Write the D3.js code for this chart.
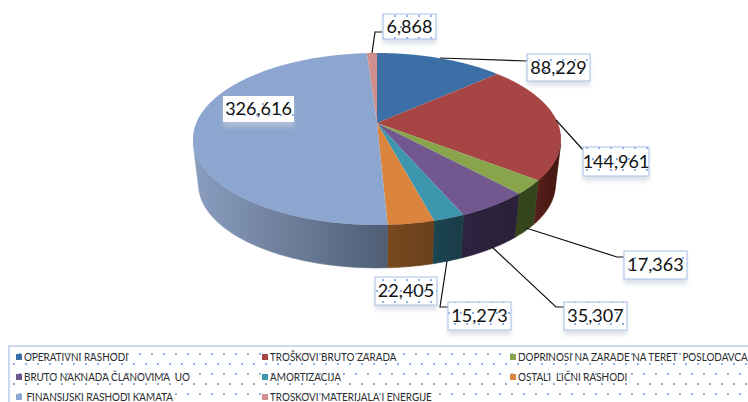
<!DOCTYPE html>
<html><head><meta charset="utf-8">
<script src="https://cdn.jsdelivr.net/npm/d3@7"></script>
<style>html,body{margin:0;padding:0;background:#fff;overflow:hidden}svg{display:block}text{font-family:Lato,"Open Sans",sans-serif}</style>
</head><body><div id="c"></div>
<script>
const categories=["OPERATIVNI RASHODI","TROŠKOVI BRUTO ZARADA","DOPRINOSI NA ZARADE NA TERET  POSLODAVCA","BRUTO NAKNADA ČLANOVIMA  UO","AMORTIZACIJA","OSTALI  LIČNI RASHODI"," FINANSIJSKI RASHODI KAMATA","TROSKOVI MATERIJALA I ENERGIJE"];
const values=[88229,144961,17363,35307,15273,22405,326616,6868];
const topColors=["#3c6fa5","#a64543","#88a54b","#71588f","#3e96ae","#db843d","#8da6cf","#ce8f8e"];
const wallFrom=["#2a4d73","#5a1f1c","#36471c","#2e2440","#1b4652","#7a4a1e","#8a9dbf","#8d5f5e"];
const wallTo=["#2a4d73","#43160f","#33441c","#2a2038","#1a3c47","#683f1b","#4f5e75","#8d5f5e"];
const labelBoxes=[[527,54,63,27],[583,147,66,29],[624,251,63,28],[564,302,63,28],[448,302,63,28],[375,277,62,28],[223,96,71,26],[383,14,53,25]];
const leaders=[[[440,58],[527,61]],[[556,120],[584,151]],[[526,228],[617,257],[624,257]],[[492,247],[556,307],[564,307]],[[447,261],[440,307],[448,307]],null,null,[[372,53],[375,32],[383,32]]];

const W=748,H=402;
const svg=d3.select("#c").append("svg").attr("width",W).attr("height",H);
const defs=svg.append("defs");
const pat=defs.append("pattern").attr("id","dots").attr("width",12).attr("height",20).attr("patternUnits","userSpaceOnUse");
pat.append("rect").attr("width",12).attr("height",20).attr("fill","#fff");
pat.append("circle").attr("cx",2).attr("cy",4).attr("r",.95).attr("fill","#5f90da");
pat.append("circle").attr("cx",8).attr("cy",14).attr("r",.95).attr("fill","#5f90da");
const lpat=defs.append("pattern").attr("id","ldots").attr("width",12).attr("height",22).attr("patternUnits","userSpaceOnUse").attr("patternTransform","translate(3,3)");
lpat.append("rect").attr("width",12).attr("height",22).attr("fill","#fff");
lpat.append("circle").attr("cx",2).attr("cy",2).attr("r",.95).attr("fill","#5f90da");
lpat.append("circle").attr("cx",8).attr("cy",13).attr("r",.95).attr("fill","#5f90da");
const blur=defs.append("filter").attr("id","sh").attr("x","-20%").attr("y","-30%").attr("width","140%").attr("height","190%");
blur.append("feDropShadow").attr("dx",0).attr("dy",5).attr("stdDeviation",2.2).attr("flood-color","#c4cdda").attr("flood-opacity",.6);

// perspective projection of the unit pie circle
const apex=[377,123],A=180.8,B=83,k=.186,shrink=.97,drop=46;
const proj=t=>{const X=Math.sin(t),Y=Math.cos(t),w=1+k*Y;return [apex[0]+A*X/w,apex[1]-B*Y/w]};
const low=p=>[apex[0]+(p[0]-apex[0])*shrink,apex[1]+(p[1]-apex[1])*shrink+drop];
const pie=d3.pie().sort(null).value(d=>d)(values);
const line=d3.line();
const samples=(a,b)=>{const n=Math.max(2,Math.ceil((b-a)/.01));return d3.range(n+1).map(i=>a+(b-a)*i/n)};
const faces=(a,b)=>{const u=proj(a),v=proj(b),d=low(u);return (v[0]-u[0])*(d[1]-u[1])-(v[1]-u[1])*(d[0]-u[0])<0};

const walls=svg.append("g"),tops=svg.append("g");
pie.forEach((d,i)=>{
  const ts=samples(d.startAngle,d.endAngle);
  const front=ts.filter((t,j)=>j<ts.length-1?faces(t,ts[j+1]):faces(ts[j-1],t));
  if(front.length<2) return;
  const up=front.map(proj),dn=up.map(low);
  const xs=up.concat(dn).map(p=>p[0]);
  const g=defs.append("linearGradient").attr("id","w"+i).attr("gradientUnits","userSpaceOnUse")
    .attr("x1",d3.min(xs)).attr("x2",d3.max(xs)).attr("y1",0).attr("y2",0);
  g.append("stop").attr("offset",0).attr("stop-color",wallFrom[i]);
  g.append("stop").attr("offset",1).attr("stop-color",wallTo[i]);
  walls.append("path").attr("d",line(up.concat(dn.slice().reverse()))+"Z")
    .attr("fill",`url(#w${i})`).attr("stroke",`url(#w${i})`).attr("stroke-width",.6);
});
pie.forEach((d,i)=>{
  const pts=[apex].concat(samples(d.startAngle,d.endAngle).map(proj));
  tops.append("path").attr("d",line(pts)+"Z").attr("fill",topColors[i]);
});
svg.append("g").selectAll("path").data(leaders.filter(Boolean)).join("path")
  .attr("d",d=>line(d)).attr("fill","none").attr("stroke","#111").attr("stroke-width",1.2);
const fmt=d3.format(",");
const lab=svg.append("g");
values.forEach((v,i)=>{
  const [x,y,w,h]=labelBoxes[i];
  lab.append("rect").attr("x",x).attr("y",y).attr("width",w).attr("height",h).attr("fill","#fff").attr("filter","url(#sh)");
  lab.append("rect").attr("x",x).attr("y",y).attr("width",w).attr("height",h).attr("fill","url(#ldots)").attr("stroke",i==6?"none":"#b4c8ea").attr("stroke-width",1.2);
  lab.append("text").attr("x",x+w/2).attr("y",y+h/2+6.2).attr("text-anchor","middle").attr("font-size",18).attr("fill","#111").text(fmt(v));
});
const leg=svg.append("g");
leg.append("rect").attr("x",9).attr("y",346).attr("width",745).attr("height",62).attr("fill","url(#dots)").attr("stroke","#a9c1ec").attr("stroke-width",1.2);
const cols=[16,262,510],rows=[357,377,397];
categories.forEach((c,i)=>{
  const x=cols[i%3],y=rows[Math.floor(i/3)];
  leg.append("rect").attr("x",x).attr("y",y-3).attr("width",6).attr("height",6).attr("fill",topColors[i]);
  leg.append("text").attr("transform",`translate(${x+8},${y+4}) scale(.9,1)`).attr("font-size",11).attr("fill","#2b2b2b").style("white-space","pre").text(c);
});
</script></body></html>
